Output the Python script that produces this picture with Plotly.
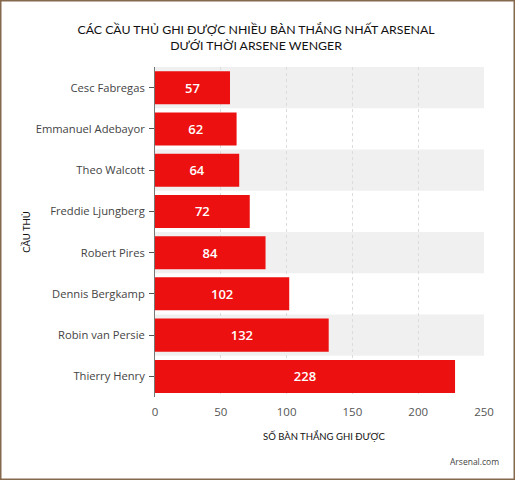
import plotly.graph_objects as go

players = ["Cesc Fabregas", "Emmanuel Adebayor", "Theo Walcott", "Freddie Ljungberg",
           "Robert Pires", "Dennis Bergkamp", "Robin van Persie", "Thierry Henry"]
goals = [57, 62, 64, 72, 84, 102, 132, 228]
x_ticks = [0, 50, 100, 150, 200, 250]

title_text = "CÁC CẦU THỦ GHI ĐƯỢC NHIỀU BÀN THẮNG NHẤT ARSENAL<br>DƯỚI THỜI ARSENE WENGER"
x_title = "SỐ BÀN THẮNG GHI ĐƯỢC"
y_title = "CẦU THỦ"
source = "Arsenal.com"

W, H = 515, 480
L, R, T, B = 155, 31, 67, 83
PW, PH = W - L - R, H - T - B
FONT = "Open Sans"
HEAD_FONT = "Lato"

fig = go.Figure()
fig.add_trace(go.Bar(
    y=players, x=goals, orientation="h", width=0.8,
    marker=dict(color="#ed1010", line=dict(width=0)),
    text=goals, textposition="inside", insidetextanchor="middle",
    textfont=dict(family=FONT, size=13, color="white", weight=600),
    cliponaxis=False,
))

# grey bands on every other row
for i in range(0, len(players), 2):
    fig.add_shape(type="rect", layer="below", xref="x domain", x0=0, x1=1,
                  yref="y", y0=i - 0.5, y1=i + 0.5,
                  fillcolor="#f0f0f0", line_width=0)

# picture frame
fig.add_shape(type="rect", xref="paper", yref="paper",
              x0=(0.5 - L) / PW, x1=(W - 0.5 - L) / PW,
              y0=(0.5 - B) / PH, y1=(H - B - 0.5) / PH,
              line=dict(color="#84694d", width=2), layer="above")

fig.update_layout(
    width=W, height=H, margin=dict(l=L, r=R, t=T, b=B),
    paper_bgcolor="white", plot_bgcolor="white", showlegend=False,
    font=dict(family=FONT, size=12, color="#444444"),
    title=dict(text=title_text, x=256 / W, xanchor="center", y=1 - 34 / H, yanchor="middle",
               font=dict(family=HEAD_FONT, size=12.3, color="#111111")),
    annotations=[
        dict(text=source, xref="paper", yref="paper",
             x=(501 - L) / PW, y=(H - B - 461) / PH,
             xanchor="right", yanchor="middle", showarrow=False,
             font=dict(family=FONT, size=8.5, color="#444444")),
        dict(text=x_title, xref="paper", yref="paper",
             x=(324 - L) / PW, y=(H - B - 436) / PH,
             xanchor="center", yanchor="middle", showarrow=False,
             font=dict(family=HEAD_FONT, size=9.5, color="#111111")),
    ],
)
fig.update_xaxes(
    range=[0, 250], tickvals=x_ticks, showgrid=True, gridcolor="#dcdcdc", griddash="3px,3px",
    gridwidth=1, zeroline=False, showline=False, ticks="", ticklabelstandoff=6,
    tickfont=dict(family=FONT, size=11.5, color="#555555"),
)
fig.update_yaxes(
    autorange="reversed", showgrid=False, zeroline=False, showline=True, linecolor="#777777",
    linewidth=1, ticks="outside", ticklen=5, tickcolor="#555555", ticklabelstandoff=2,
    tickfont=dict(family=FONT, size=11.2, color="#444444"),
    title=dict(text=y_title, standoff=3, font=dict(family=HEAD_FONT, size=9.5, color="#111111")),
)

fig.write_html("out.html", config={"displayModeBar": False},
               post_script="document.body.style.margin='0';")
